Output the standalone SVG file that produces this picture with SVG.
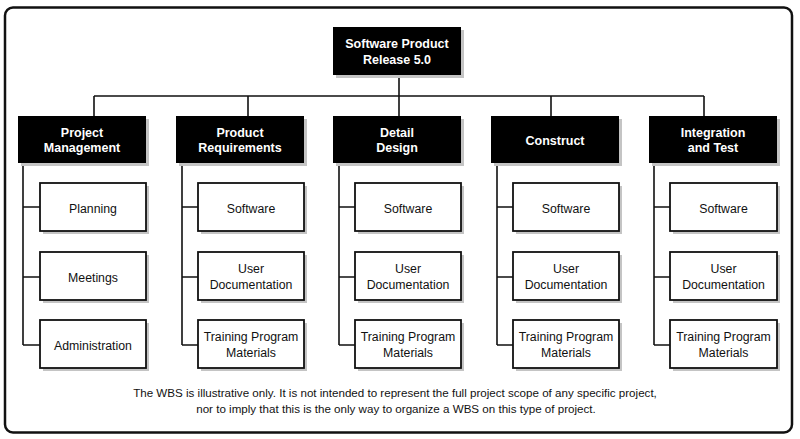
<svg xmlns="http://www.w3.org/2000/svg" width="800" height="439" viewBox="0 0 800 439">
<defs>
<style>
.frame{fill:#fff;stroke:#111;stroke-width:2.5}
.sh{fill:#c4c4c4}
.dark{fill:#000}
.light{fill:#fff;stroke:#111;stroke-width:1.8}
.conn{fill:none;stroke:#111;stroke-width:1.6}
.tb{font-family:"Liberation Sans",Arial,sans-serif;font-weight:bold;font-size:12.5px;fill:#fff;text-anchor:middle}
.tr{font-family:"Liberation Sans",Arial,sans-serif;font-size:12.3px;fill:#111;text-anchor:middle}
.note{font-family:"Liberation Sans",Arial,sans-serif;font-size:11.6px;fill:#111;text-anchor:middle}
</style>
</defs>
<rect width="800" height="439" fill="#fff"/>
<rect class="frame" x="5" y="7.5" width="787" height="425" rx="8"/>
<g id="connectors">
<path class="conn" d="M399,75 V96 M94,96 H704 M94,96 V116 M248,96 V116 M399,96 V116 M551,96 V116 M704,96 V116"/>
<path class="conn" d="M23,163 V345 M23,207 H40 M23,277 H40 M23,345 H40"/>
<path class="conn" d="M182,163 V345 M182,207 H198 M182,277 H198 M182,345 H198"/>
<path class="conn" d="M339,163 V345 M339,207 H355 M339,277 H355 M339,345 H355"/>
<path class="conn" d="M497,163 V345 M497,207 H513 M497,277 H513 M497,345 H513"/>
<path class="conn" d="M654,163 V345 M654,207 H670 M654,277 H670 M654,345 H670"/>
</g>
<g id="root">
<rect class="sh" x="336" y="30" width="128" height="48"/>
<rect class="dark" x="333" y="27" width="128" height="48"/>
<text class="tb" x="397" y="48">Software Product</text>
<text class="tb" x="397" y="64">Release 5.0</text>
</g>
<g id="pm">
<rect class="sh" x="21" y="119" width="128" height="47"/>
<rect class="dark" x="18" y="116" width="128" height="47"/>
<text class="tb" x="82" y="137">Project</text>
<text class="tb" x="82" y="152">Management</text>
</g>
<g id="pr">
<rect class="sh" x="179" y="119" width="128" height="47"/>
<rect class="dark" x="176" y="116" width="128" height="47"/>
<text class="tb" x="240" y="137">Product</text>
<text class="tb" x="240" y="152">Requirements</text>
</g>
<g id="dd">
<rect class="sh" x="336" y="119" width="128" height="47"/>
<rect class="dark" x="333" y="116" width="128" height="47"/>
<text class="tb" x="397" y="137">Detail</text>
<text class="tb" x="397" y="152">Design</text>
</g>
<g id="co">
<rect class="sh" x="494" y="119" width="128" height="47"/>
<rect class="dark" x="491" y="116" width="128" height="47"/>
<text class="tb" x="555" y="145">Construct</text>
</g>
<g id="it">
<rect class="sh" x="652" y="119" width="128" height="47"/>
<rect class="dark" x="649" y="116" width="128" height="47"/>
<text class="tb" x="713" y="137">Integration</text>
<text class="tb" x="713" y="152">and Test</text>
</g>
<g id="pm-1"><rect class="sh" x="43" y="186" width="106" height="48"/><rect class="light" x="40" y="183" width="106" height="48"/><text class="tr" x="93" y="213">Planning</text></g>
<g id="pm-2"><rect class="sh" x="43" y="255" width="106" height="48"/><rect class="light" x="40" y="252" width="106" height="48"/><text class="tr" x="93" y="282">Meetings</text></g>
<g id="pm-3"><rect class="sh" x="43" y="323" width="106" height="48"/><rect class="light" x="40" y="320" width="106" height="48"/><text class="tr" x="93" y="350">Administration</text></g>
<g id="pr-1"><rect class="sh" x="201" y="186" width="106" height="48"/><rect class="light" x="198" y="183" width="106" height="48"/><text class="tr" x="251" y="213">Software</text></g>
<g id="pr-2"><rect class="sh" x="201" y="255" width="106" height="48"/><rect class="light" x="198" y="252" width="106" height="48"/><text class="tr" x="251" y="273">User</text><text class="tr" x="251" y="289">Documentation</text></g>
<g id="pr-3"><rect class="sh" x="201" y="323" width="106" height="48"/><rect class="light" x="198" y="320" width="106" height="48"/><text class="tr" x="251" y="341">Training Program</text><text class="tr" x="251" y="357">Materials</text></g>
<g id="dd-1"><rect class="sh" x="358" y="186" width="106" height="48"/><rect class="light" x="355" y="183" width="106" height="48"/><text class="tr" x="408" y="213">Software</text></g>
<g id="dd-2"><rect class="sh" x="358" y="255" width="106" height="48"/><rect class="light" x="355" y="252" width="106" height="48"/><text class="tr" x="408" y="273">User</text><text class="tr" x="408" y="289">Documentation</text></g>
<g id="dd-3"><rect class="sh" x="358" y="323" width="106" height="48"/><rect class="light" x="355" y="320" width="106" height="48"/><text class="tr" x="408" y="341">Training Program</text><text class="tr" x="408" y="357">Materials</text></g>
<g id="co-1"><rect class="sh" x="516" y="186" width="106" height="48"/><rect class="light" x="513" y="183" width="106" height="48"/><text class="tr" x="566" y="213">Software</text></g>
<g id="co-2"><rect class="sh" x="516" y="255" width="106" height="48"/><rect class="light" x="513" y="252" width="106" height="48"/><text class="tr" x="566" y="273">User</text><text class="tr" x="566" y="289">Documentation</text></g>
<g id="co-3"><rect class="sh" x="516" y="323" width="106" height="48"/><rect class="light" x="513" y="320" width="106" height="48"/><text class="tr" x="566" y="341">Training Program</text><text class="tr" x="566" y="357">Materials</text></g>
<g id="it-1"><rect class="sh" x="673" y="186" width="107" height="48"/><rect class="light" x="670" y="183" width="107" height="48"/><text class="tr" x="723.5" y="213">Software</text></g>
<g id="it-2"><rect class="sh" x="673" y="255" width="107" height="48"/><rect class="light" x="670" y="252" width="107" height="48"/><text class="tr" x="723.5" y="273">User</text><text class="tr" x="723.5" y="289">Documentation</text></g>
<g id="it-3"><rect class="sh" x="673" y="323" width="107" height="48"/><rect class="light" x="670" y="320" width="107" height="48"/><text class="tr" x="723.5" y="341">Training Program</text><text class="tr" x="723.5" y="357">Materials</text></g>
<text class="note" x="395" y="397">The WBS is illustrative only. It is not intended to represent the full project scope of any specific project,</text>
<text class="note" x="396" y="413">nor to imply that this is the only way to organize a WBS on this type of project.</text>
</svg>
